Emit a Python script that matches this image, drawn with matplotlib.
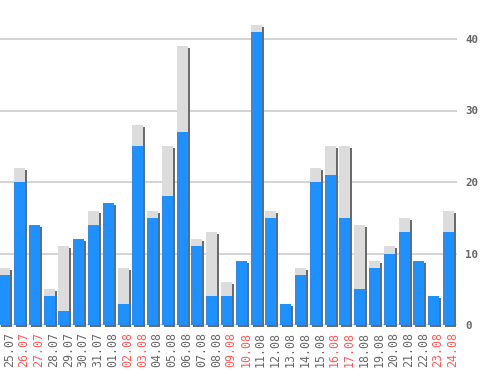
import matplotlib
matplotlib.use("Agg")
import matplotlib.pyplot as plt
import matplotlib.transforms as mtransforms
import numpy as np

days = ["25.07", "26.07", "27.07", "28.07", "29.07", "30.07", "31.07", "01.08",
        "02.08", "03.08", "04.08", "05.08", "06.08", "07.08", "08.08", "09.08",
        "10.08", "11.08", "12.08", "13.08", "14.08", "15.08", "16.08", "17.08",
        "18.08", "19.08", "20.08", "21.08", "22.08", "23.08", "24.08"]
weekend = ["26.07", "27.07", "02.08", "03.08", "09.08", "10.08", "16.08", "17.08",
           "23.08", "24.08"]
blue = [7, 20, 14, 4, 2, 12, 14, 17, 3, 25, 15, 18, 27, 11, 4, 4,
        9, 41, 15, 3, 7, 20, 21, 15, 5, 8, 10, 13, 9, 4, 13]
total = [8, 22, 14, 5, 11, 12, 16, 17, 8, 28, 16, 25, 39, 12, 13, 6,
         9, 42, 16, 3, 8, 22, 25, 25, 14, 9, 11, 15, 9, 4, 16]

W, H = 498, 370
fig = plt.figure(figsize=(W / 100, H / 100), dpi=100)
ax = fig.add_axes([0, 1 - 325 / H, 457 / W, 325 / H])

x = np.arange(len(days))
blue = np.array(blue)
total = np.array(total)
grey = total - blue

ymax = 325 / 7.15
ax.set_ylim(0, ymax)
ax.set_xlim(-0.318, -0.318 + 457 / 14.79)

# shadow: 2px right, 2px down
dx = 2 / 14.79
dy = 2 / 7.15
bw = 0.744
ax.bar(x + dx, total, width=bw, bottom=-dy, color="#6b6b6b", zorder=2, clip_on=False)
ax.bar(x, blue, width=bw, color="#1e90ff", zorder=3)
ax.bar(x, grey, width=bw, bottom=blue, color="#dcdcdc", zorder=3)

ax.set_yticks([0, 10, 20, 30, 40])
ax.yaxis.tick_right()
ax.grid(axis="y", color="#cccccc", linewidth=1.2, zorder=0)
ax.tick_params(axis="y", length=0, pad=6, labelsize=7.8, labelcolor="#666666")
for t in ax.get_yticklabels():
    t.set_family("DejaVu Sans Mono")
    t.set_weight("bold")

ax.set_xticks(x)
ax.set_xticklabels(days, rotation=90, family="DejaVu Sans Mono", fontsize=8.4)
ax.tick_params(axis="x", length=0, pad=5)
shift = mtransforms.ScaledTranslation(4.5 / 100, 0, fig.dpi_scale_trans)
for t, d in zip(ax.get_xticklabels(), days):
    t.set_color("#ff5a5a" if d in weekend else "#666666")
    t.set_transform(t.get_transform() + shift)

for s in ax.spines.values():
    s.set_visible(False)

fig.savefig("out.png", dpi=100)
